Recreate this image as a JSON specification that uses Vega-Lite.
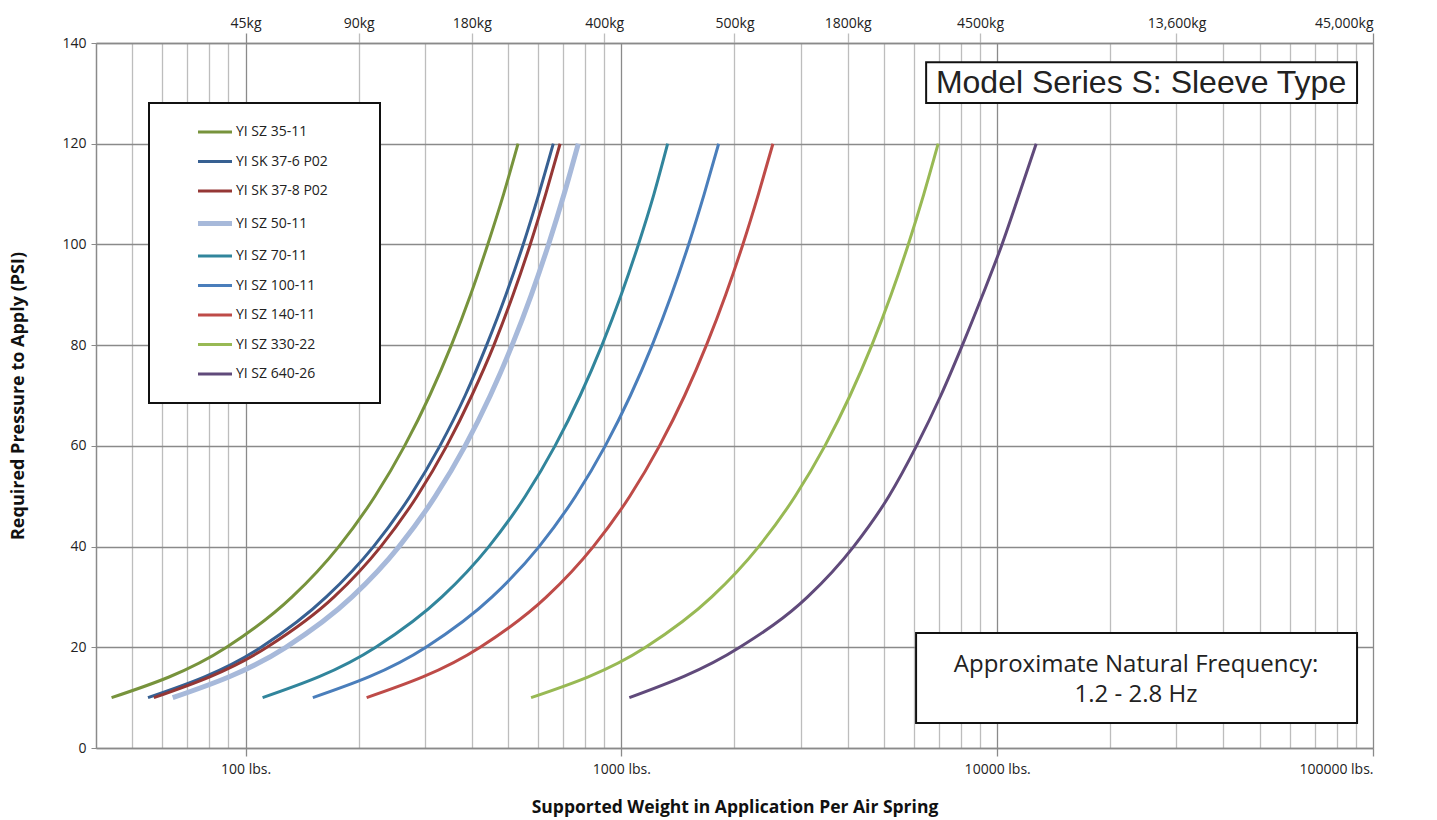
{
  "$schema": "https://vega.github.io/schema/vega-lite/v6.json",
  "width": 1277,
  "height": 705,
  "autosize": {"type": "none"},
  "padding": {"left": 96, "top": 43, "right": 64, "bottom": 72},
  "background": "white",
  "config": {
    "view": {"stroke": null},
    "font": "Open Sans",
    "legend": {"strokeWidth": 2}
  },
  "resolve": {"axis": {"x": "independent"}},
  "layer": [
    {
      "data": {
        "values": [
          {"s": "YI SZ 35-11", "psi": 10, "lbs": 44},
          {"s": "YI SZ 35-11", "psi": 20, "lbs": 89},
          {"s": "YI SZ 35-11", "psi": 30, "lbs": 133},
          {"s": "YI SZ 35-11", "psi": 40, "lbs": 177},
          {"s": "YI SZ 35-11", "psi": 50, "lbs": 221},
          {"s": "YI SZ 35-11", "psi": 60, "lbs": 265},
          {"s": "YI SZ 35-11", "psi": 70, "lbs": 309},
          {"s": "YI SZ 35-11", "psi": 80, "lbs": 353},
          {"s": "YI SZ 35-11", "psi": 90, "lbs": 397},
          {"s": "YI SZ 35-11", "psi": 100, "lbs": 441},
          {"s": "YI SZ 35-11", "psi": 110, "lbs": 486},
          {"s": "YI SZ 35-11", "psi": 120, "lbs": 531},
          {"s": "YI SK 37-6 P02", "psi": 10, "lbs": 55},
          {"s": "YI SK 37-6 P02", "psi": 20, "lbs": 110},
          {"s": "YI SK 37-6 P02", "psi": 30, "lbs": 164},
          {"s": "YI SK 37-6 P02", "psi": 40, "lbs": 219},
          {"s": "YI SK 37-6 P02", "psi": 50, "lbs": 274},
          {"s": "YI SK 37-6 P02", "psi": 60, "lbs": 329},
          {"s": "YI SK 37-6 P02", "psi": 70, "lbs": 384},
          {"s": "YI SK 37-6 P02", "psi": 80, "lbs": 438},
          {"s": "YI SK 37-6 P02", "psi": 90, "lbs": 493},
          {"s": "YI SK 37-6 P02", "psi": 100, "lbs": 548},
          {"s": "YI SK 37-6 P02", "psi": 110, "lbs": 603},
          {"s": "YI SK 37-6 P02", "psi": 120, "lbs": 659},
          {"s": "YI SK 37-8 P02", "psi": 10, "lbs": 57},
          {"s": "YI SK 37-8 P02", "psi": 20, "lbs": 114},
          {"s": "YI SK 37-8 P02", "psi": 30, "lbs": 172},
          {"s": "YI SK 37-8 P02", "psi": 40, "lbs": 229},
          {"s": "YI SK 37-8 P02", "psi": 50, "lbs": 286},
          {"s": "YI SK 37-8 P02", "psi": 60, "lbs": 343},
          {"s": "YI SK 37-8 P02", "psi": 70, "lbs": 400},
          {"s": "YI SK 37-8 P02", "psi": 80, "lbs": 458},
          {"s": "YI SK 37-8 P02", "psi": 90, "lbs": 515},
          {"s": "YI SK 37-8 P02", "psi": 100, "lbs": 572},
          {"s": "YI SK 37-8 P02", "psi": 110, "lbs": 629},
          {"s": "YI SK 37-8 P02", "psi": 120, "lbs": 687},
          {"s": "YI SZ 50-11", "psi": 10, "lbs": 64},
          {"s": "YI SZ 50-11", "psi": 20, "lbs": 128},
          {"s": "YI SZ 50-11", "psi": 30, "lbs": 192},
          {"s": "YI SZ 50-11", "psi": 40, "lbs": 256},
          {"s": "YI SZ 50-11", "psi": 50, "lbs": 320},
          {"s": "YI SZ 50-11", "psi": 60, "lbs": 384},
          {"s": "YI SZ 50-11", "psi": 70, "lbs": 448},
          {"s": "YI SZ 50-11", "psi": 80, "lbs": 512},
          {"s": "YI SZ 50-11", "psi": 90, "lbs": 576},
          {"s": "YI SZ 50-11", "psi": 100, "lbs": 640},
          {"s": "YI SZ 50-11", "psi": 110, "lbs": 704},
          {"s": "YI SZ 50-11", "psi": 120, "lbs": 768},
          {"s": "YI SZ 70-11", "psi": 10, "lbs": 111},
          {"s": "YI SZ 70-11", "psi": 20, "lbs": 222},
          {"s": "YI SZ 70-11", "psi": 30, "lbs": 333},
          {"s": "YI SZ 70-11", "psi": 40, "lbs": 444},
          {"s": "YI SZ 70-11", "psi": 50, "lbs": 555},
          {"s": "YI SZ 70-11", "psi": 60, "lbs": 666},
          {"s": "YI SZ 70-11", "psi": 70, "lbs": 777},
          {"s": "YI SZ 70-11", "psi": 80, "lbs": 888},
          {"s": "YI SZ 70-11", "psi": 90, "lbs": 999},
          {"s": "YI SZ 70-11", "psi": 100, "lbs": 1110},
          {"s": "YI SZ 70-11", "psi": 110, "lbs": 1221},
          {"s": "YI SZ 70-11", "psi": 120, "lbs": 1328},
          {"s": "YI SZ 100-11", "psi": 10, "lbs": 151},
          {"s": "YI SZ 100-11", "psi": 20, "lbs": 302},
          {"s": "YI SZ 100-11", "psi": 30, "lbs": 453},
          {"s": "YI SZ 100-11", "psi": 40, "lbs": 604},
          {"s": "YI SZ 100-11", "psi": 50, "lbs": 755},
          {"s": "YI SZ 100-11", "psi": 60, "lbs": 906},
          {"s": "YI SZ 100-11", "psi": 70, "lbs": 1057},
          {"s": "YI SZ 100-11", "psi": 80, "lbs": 1208},
          {"s": "YI SZ 100-11", "psi": 90, "lbs": 1359},
          {"s": "YI SZ 100-11", "psi": 100, "lbs": 1510},
          {"s": "YI SZ 100-11", "psi": 110, "lbs": 1661},
          {"s": "YI SZ 100-11", "psi": 120, "lbs": 1815},
          {"s": "YI SZ 140-11", "psi": 10, "lbs": 210},
          {"s": "YI SZ 140-11", "psi": 20, "lbs": 421},
          {"s": "YI SZ 140-11", "psi": 30, "lbs": 632},
          {"s": "YI SZ 140-11", "psi": 40, "lbs": 842},
          {"s": "YI SZ 140-11", "psi": 50, "lbs": 1053},
          {"s": "YI SZ 140-11", "psi": 60, "lbs": 1263},
          {"s": "YI SZ 140-11", "psi": 70, "lbs": 1474},
          {"s": "YI SZ 140-11", "psi": 80, "lbs": 1684},
          {"s": "YI SZ 140-11", "psi": 90, "lbs": 1895},
          {"s": "YI SZ 140-11", "psi": 100, "lbs": 2105},
          {"s": "YI SZ 140-11", "psi": 110, "lbs": 2316},
          {"s": "YI SZ 140-11", "psi": 120, "lbs": 2531},
          {"s": "YI SZ 330-22", "psi": 10, "lbs": 575},
          {"s": "YI SZ 330-22", "psi": 20, "lbs": 1160},
          {"s": "YI SZ 330-22", "psi": 30, "lbs": 1740},
          {"s": "YI SZ 330-22", "psi": 40, "lbs": 2320},
          {"s": "YI SZ 330-22", "psi": 50, "lbs": 2900},
          {"s": "YI SZ 330-22", "psi": 60, "lbs": 3480},
          {"s": "YI SZ 330-22", "psi": 70, "lbs": 4060},
          {"s": "YI SZ 330-22", "psi": 80, "lbs": 4640},
          {"s": "YI SZ 330-22", "psi": 90, "lbs": 5220},
          {"s": "YI SZ 330-22", "psi": 100, "lbs": 5800},
          {"s": "YI SZ 330-22", "psi": 110, "lbs": 6380},
          {"s": "YI SZ 330-22", "psi": 120, "lbs": 6966},
          {"s": "YI SZ 640-26", "psi": 10, "lbs": 1050},
          {"s": "YI SZ 640-26", "psi": 20, "lbs": 2065},
          {"s": "YI SZ 640-26", "psi": 30, "lbs": 3130},
          {"s": "YI SZ 640-26", "psi": 40, "lbs": 4150},
          {"s": "YI SZ 640-26", "psi": 50, "lbs": 5150},
          {"s": "YI SZ 640-26", "psi": 60, "lbs": 6100},
          {"s": "YI SZ 640-26", "psi": 70, "lbs": 7080},
          {"s": "YI SZ 640-26", "psi": 80, "lbs": 8080},
          {"s": "YI SZ 640-26", "psi": 90, "lbs": 9150},
          {"s": "YI SZ 640-26", "psi": 100, "lbs": 10300},
          {"s": "YI SZ 640-26", "psi": 110, "lbs": 11450},
          {"s": "YI SZ 640-26", "psi": 120, "lbs": 12700}
        ]
      },
      "mark": {"type": "line", "interpolate": "monotone"},
      "encoding": {
        "x": {
          "field": "lbs",
          "type": "quantitative",
          "scale": {"type": "log", "domain": [40, 100000], "nice": false},
          "axis": {
            "orient": "bottom",
            "title": "Supported Weight in Application Per Air Spring",
            "titleFont": "Open Sans",
            "titleFontSize": 17.5,
            "titleFontWeight": "bold",
            "titleColor": "#111",
            "titlePadding": 22,
            "values": [50, 60, 70, 80, 90, 100, 200, 300, 400, 500, 600, 700, 800, 900, 1000, 2000, 3000, 4000, 5000, 6000, 7000, 8000, 9000, 10000, 20000, 30000, 40000, 50000, 60000, 70000, 80000, 90000, 100000],
            "labelExpr": "(datum.value == 100 || datum.value == 1000 || datum.value == 10000 || datum.value == 100000) ? format(datum.value, 'd') + ' lbs.' : ''",
            "labelOverlap": false,
            "labelFontSize": 14,
            "labelColor": "#222",
            "labelPadding": 6,
            "grid": true,
            "gridColor": {"condition": {"test": "datum.value == 100 || datum.value == 1000 || datum.value == 10000 || datum.value == 100000", "value": "#8A8A8A"}, "value": "#BDBDBD"},
            "gridWidth": 1.3,
            "tickSize": 8,
            "tickColor": "#8A8A8A",
            "tickWidth": 1.3,
            "tickOpacity": {"condition": {"test": "datum.value == 100 || datum.value == 1000 || datum.value == 10000 || datum.value == 100000", "value": 1}, "value": 0},
            "domainColor": "#8A8A8A",
            "domainWidth": 1.5
          }
        },
        "y": {
          "field": "psi",
          "type": "quantitative",
          "scale": {"domain": [0, 140], "nice": false},
          "axis": {
            "title": "Required Pressure to Apply (PSI)",
            "titleFont": "Open Sans",
            "titleFontSize": 18,
            "titleFontWeight": "bold",
            "titleColor": "#111",
            "titlePadding": 34,
            "values": [0, 20, 40, 60, 80, 100, 120, 140],
            "labelFontSize": 14,
            "labelColor": "#222",
            "labelPadding": 5,
            "grid": true,
            "gridColor": "#8A8A8A",
            "gridWidth": 1.3,
            "tickSize": 5,
            "tickColor": "#8A8A8A",
            "domainColor": "#8A8A8A",
            "domainWidth": 1.5
          }
        },
        "color": {
          "field": "s",
          "type": "nominal",
          "scale": {
            "domain": ["YI SZ 35-11", "YI SK 37-6 P02", "YI SK 37-8 P02", "YI SZ 50-11", "YI SZ 70-11", "YI SZ 100-11", "YI SZ 140-11", "YI SZ 330-22", "YI SZ 640-26"],
            "range": ["#77933C", "#376092", "#953735", "#A7B9DA", "#31859C", "#4A7EBB", "#BE4B48", "#98B954", "#604A7B"]
          },
          "legend": {
            "orient": "none",
            "legendX": 53,
            "legendY": 60,
            "title": "\u00a0",
            "titleOrient": "right",
            "titlePadding": 30,
            "titleFontSize": 4,
            "fillColor": "white",
            "strokeColor": "#111",
            "padding": 22,
            "symbolType": "stroke",
            "symbolSize": 1156,
            "symbolStrokeWidth": 3,
            "symbolOffset": 37,
            "labelFont": "Open Sans",
            "labelFontSize": 14,
            "labelColor": "#222",
            "labelOffset": 14,
            "rowPadding": 15.5,
            "encode": {
              "symbols": {"update": {"strokeWidth": {"signal": "datum.value === 'YI SZ 50-11' ? 5 : 3"}}}
            }
          }
        },
        "strokeWidth": {"condition": {"test": "datum.s === 'YI SZ 50-11'", "value": 5}, "value": 3}
      }
    },
    {
      "data": {"values": [{}]},
      "mark": {"type": "rect", "fill": "white", "stroke": "#111", "strokeWidth": 2},
      "encoding": {
        "x": {
          "datum": 6471,
          "type": "quantitative",
          "axis": {
            "orient": "top",
            "title": null,
            "values": [100, 200, 400, 900, 2000, 4000, 9000, 30000, 100000],
            "labelExpr": "datum.value == 100 ? '45kg' : datum.value == 200 ? '90kg' : datum.value == 400 ? '180kg' : datum.value == 900 ? '400kg' : datum.value == 2000 ? '500kg' : datum.value == 4000 ? '1800kg' : datum.value == 9000 ? '4500kg' : datum.value == 30000 ? '13,600kg' : '45,000kg'",
            "labelOverlap": false,
            "labelFontSize": 14,
            "labelColor": "#222",
            "labelPadding": 3,
            "grid": false,
            "tickSize": 10,
            "tickWidth": 1.3,
            "tickColor": {"condition": {"test": "datum.value == 100 || datum.value == 1000 || datum.value == 10000 || datum.value == 100000", "value": "#8A8A8A"}, "value": "#BDBDBD"},
            "domainColor": "#8A8A8A",
            "domainWidth": 1.5
          }
        },
        "x2": {"datum": 90690},
        "y": {"datum": 136.2, "type": "quantitative"},
        "y2": {"datum": 128.1}
      }
    },
    {
      "data": {"values": [{}]},
      "mark": {"type": "text", "font": "Liberation Sans", "fontSize": 32, "align": "center", "baseline": "middle", "color": "#222"},
      "encoding": {
        "x": {"datum": 24140, "type": "quantitative", "axis": null},
        "y": {"datum": 132.0, "type": "quantitative"},
        "text": {"value": "Model Series S: Sleeve Type"}
      }
    },
    {
      "data": {"values": [{}]},
      "mark": {"type": "rect", "fill": "white", "stroke": "#111", "strokeWidth": 2},
      "encoding": {
        "x": {"datum": 6084, "type": "quantitative", "axis": null},
        "x2": {"datum": 90690},
        "y": {"datum": 22.84, "type": "quantitative"},
        "y2": {"datum": 4.96}
      }
    },
    {
      "data": {"values": [{}]},
      "mark": {"type": "text", "font": "Open Sans", "fontSize": 24, "align": "center", "baseline": "middle", "lineHeight": 30, "color": "#222"},
      "encoding": {
        "x": {"datum": 23410, "type": "quantitative", "axis": null},
        "y": {"datum": 16.5, "type": "quantitative"},
        "text": {"value": ["Approximate Natural Frequency:", "1.2 - 2.8 Hz"]}
      }
    }
  ]
}
